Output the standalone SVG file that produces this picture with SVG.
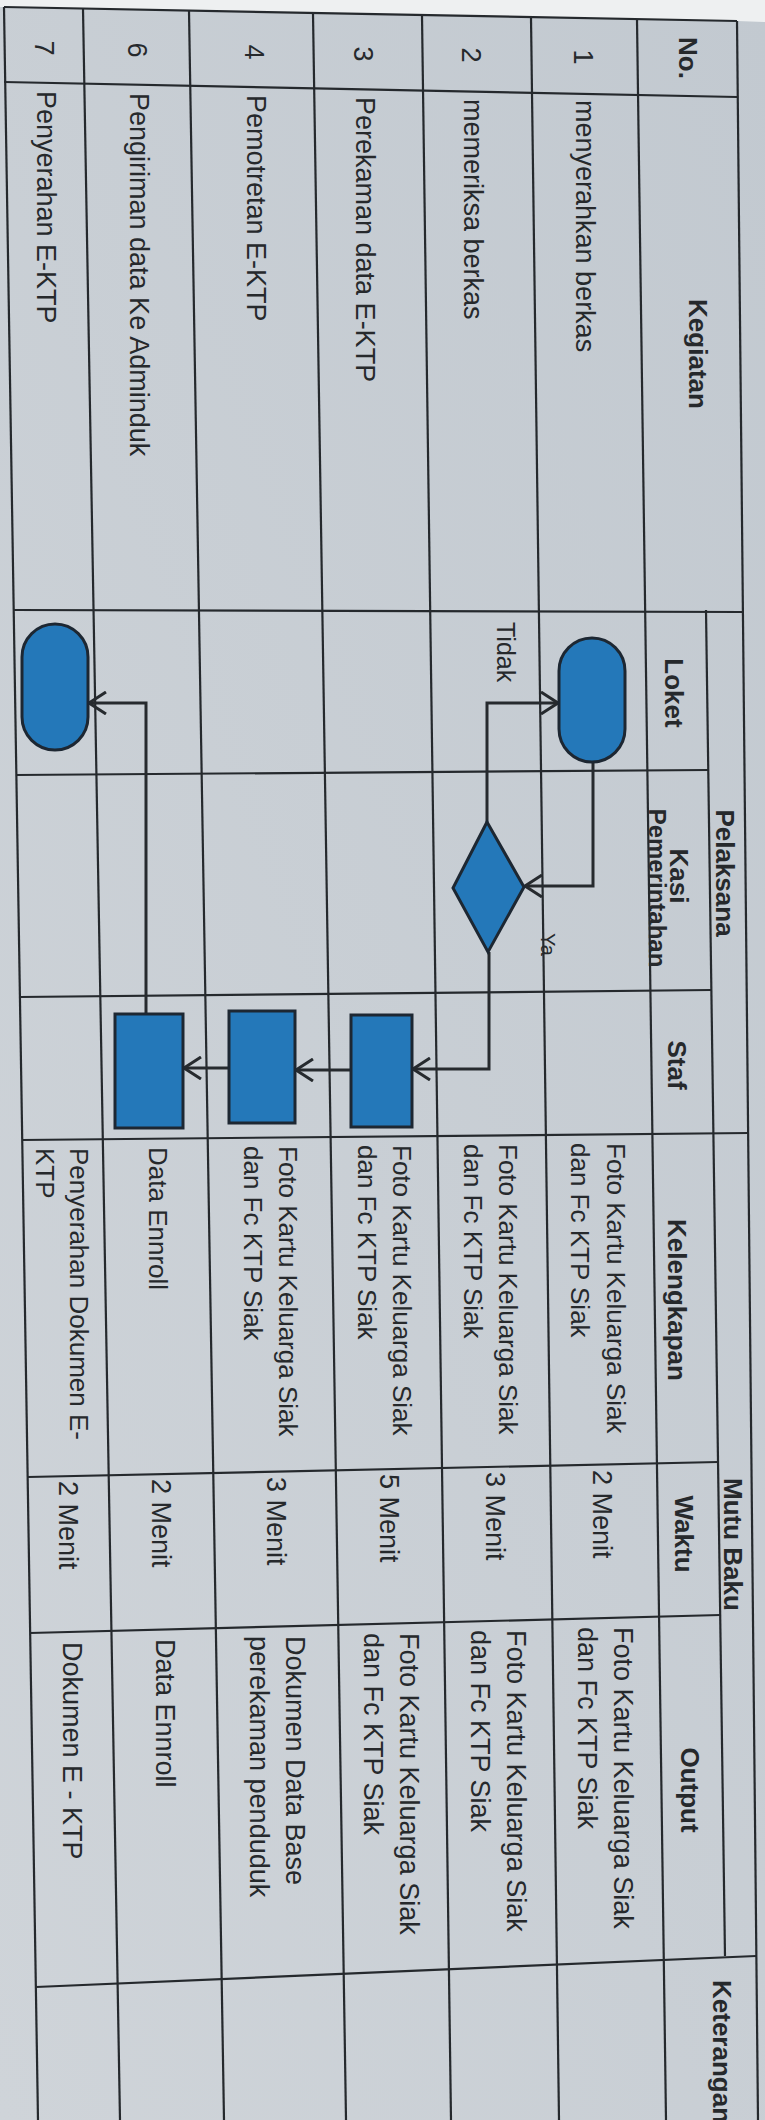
<svg xmlns="http://www.w3.org/2000/svg" width="765" height="2120" viewBox="0 0 765 2120">
<defs>
<linearGradient id="paper" x1="1" y1="0" x2="0" y2="1">
<stop offset="0" stop-color="#c2c9d0"/>
<stop offset="1" stop-color="#cfd4d9"/>
</linearGradient>
<marker id="arr" viewBox="0 0 20 24" refX="18" refY="12" markerWidth="20" markerHeight="24" markerUnits="userSpaceOnUse" orient="auto">
<path d="M1,1 L18,12 L1,23" fill="none" stroke="#262a2e" stroke-width="3"/>
</marker>
<style>
.t{font-family:"Liberation Sans",Arial,sans-serif;font-size:27px;fill:#26292c;dominant-baseline:central}
.k{font-size:26px}
.b{font-weight:bold;font-size:26px}
.m{text-anchor:middle}
.g line{stroke:#25292d;stroke-width:2.2}
.shape{fill:#2478b9;stroke:#1d2732;stroke-width:3}
.con path{fill:none;stroke:#262a2e;stroke-width:3;marker-end:url(#arr)}
</style>
</defs>
<rect width="765" height="2120" fill="url(#paper)"/>
<polygon points="0,0 765,0 765,22 737,21 4,7 0,7" fill="#eef0f1"/>

<g id="table" class="g">
<line x1="4" y1="7" x2="38" y2="2120"/>
<line x1="83" y1="9" x2="120" y2="2120"/>
<line x1="189" y1="11" x2="224" y2="2120"/>
<line x1="313" y1="14" x2="346" y2="2120"/>
<line x1="422" y1="16" x2="451" y2="2120"/>
<line x1="531" y1="18" x2="559" y2="2120"/>
<line x1="637" y1="20" x2="666" y2="2120"/>
<line x1="737" y1="21" x2="758" y2="2120"/>
<line x1="706" y1="610" x2="725" y2="1956"/>
<line x1="4" y1="7" x2="737" y2="21"/>
<line x1="4" y1="82" x2="737" y2="97"/>
<line x1="14" y1="610" x2="744" y2="612"/>
<line x1="16" y1="775" x2="708" y2="770"/>
<line x1="20" y1="997" x2="711" y2="990"/>
<line x1="22" y1="1140" x2="749" y2="1133"/>
<line x1="28" y1="1477" x2="718" y2="1462"/>
<line x1="30" y1="1633" x2="720" y2="1615"/>
<line x1="36" y1="1987" x2="756" y2="1956"/>
</g>

<g id="headers" class="t b">
<text class="m" transform="translate(688,58) rotate(90)">No.</text>
<text class="m" transform="translate(698,354) rotate(90)">Kegiatan</text>
<text class="m" transform="translate(725,873) rotate(90)">Pelaksana</text>
<text class="m" transform="translate(674,693) rotate(90)">Loket</text>
<text class="m" transform="translate(679,876) rotate(90)">Kasi</text>
<text class="m" transform="translate(657,888) rotate(90)" style="font-size:24px">Pemerintahan</text>
<text class="m" transform="translate(677,1065) rotate(90)">Staf</text>
<text class="m" transform="translate(677,1300) rotate(90)">Kelengkapan</text>
<text transform="translate(733,1478) rotate(90)">Mutu Baku</text>
<text class="m" transform="translate(684,1534) rotate(90)">Waktu</text>
<text class="m" transform="translate(690,1790) rotate(90)">Output</text>
<text transform="translate(722,1980) rotate(90)">Keterangan</text>
</g>

<g id="numbers" class="t">
<text class="m" transform="translate(583,57) rotate(90)">1</text>
<text class="m" transform="translate(471,55) rotate(90)">2</text>
<text class="m" transform="translate(363,54) rotate(90)">3</text>
<text class="m" transform="translate(254,52) rotate(90)">4</text>
<text class="m" transform="translate(137,50) rotate(90)">6</text>
<text class="m" transform="translate(44,48) rotate(90)">7</text>
</g>

<g id="kegiatan" class="t">
<text transform="translate(585,100) rotate(90)">menyerahkan berkas</text>
<text transform="translate(473,99) rotate(90)">memeriksa berkas</text>
<text transform="translate(365,97) rotate(90)">Perekaman data E-KTP</text>
<text transform="translate(256,95) rotate(90)">Pemotretan E-KTP</text>
<text transform="translate(139,93) rotate(90)">Pengiriman data Ke Adminduk</text>
<text transform="translate(46,91) rotate(90)">Penyerahan E-KTP</text>
</g>

<g id="kelengkapan" class="t k">
<text transform="translate(616,1143) rotate(90)">Foto Kartu Keluarga Siak</text>
<text transform="translate(580,1143) rotate(90)">dan Fc KTP Siak</text>
<text transform="translate(508,1144) rotate(90)">Foto Kartu Keluarga Siak</text>
<text transform="translate(473,1144) rotate(90)">dan Fc KTP Siak</text>
<text transform="translate(402,1145) rotate(90)">Foto Kartu Keluarga Siak</text>
<text transform="translate(367,1145) rotate(90)">dan Fc KTP Siak</text>
<text transform="translate(288,1146) rotate(90)">Foto Kartu Keluarga Siak</text>
<text transform="translate(253,1146) rotate(90)">dan Fc KTP Siak</text>
<text transform="translate(158,1147) rotate(90)">Data Ennroll</text>
<text transform="translate(79,1148) rotate(90)">Penyerahan Dokumen E-</text>
<text transform="translate(45,1148) rotate(90)">KTP</text>
</g>

<g id="waktu" class="t">
<text transform="translate(602,1470) rotate(90)">2 Menit</text>
<text transform="translate(495,1472) rotate(90)">3 Menit</text>
<text transform="translate(389,1474) rotate(90)">5 Menit</text>
<text transform="translate(276,1477) rotate(90)">3 Menit</text>
<text transform="translate(161,1479) rotate(90)">2 Menit</text>
<text transform="translate(68,1481) rotate(90)">2 Menit</text>
</g>

<g id="output" class="t">
<text transform="translate(623,1627) rotate(90)">Foto Kartu Keluarga Siak</text>
<text transform="translate(587,1627) rotate(90)">dan Fc KTP Siak</text>
<text transform="translate(516,1630) rotate(90)">Foto Kartu Keluarga Siak</text>
<text transform="translate(480,1630) rotate(90)">dan Fc KTP Siak</text>
<text transform="translate(409,1633) rotate(90)">Foto Kartu Keluarga Siak</text>
<text transform="translate(373,1633) rotate(90)">dan Fc KTP Siak</text>
<text transform="translate(295,1636) rotate(90)">Dokumen Data Base</text>
<text transform="translate(259,1636) rotate(90)">perekaman penduduk</text>
<text transform="translate(165,1639) rotate(90)">Data Ennroll</text>
<text transform="translate(72,1642) rotate(90)">Dokumen E - KTP</text>
</g>

<g id="connectors" class="con">
<path d="M593,762 V886 H525"/>
<path d="M487,822 V703 H558"/>
<path d="M489,952 V1069 H413"/>
<path d="M351,1070 H296"/>
<path d="M229,1068 H184"/>
<path d="M146,1014 V703 H89"/>
</g>

<g id="labels" class="t">
<text transform="translate(506,622) rotate(90)" style="font-size:25px">Tidak</text>
<text transform="translate(548,933) rotate(90)" style="font-size:20px">Ya</text>
</g>

<g id="start-loket"><rect class="shape" x="559" y="638" width="66" height="124" rx="33"/></g>
<g id="decision"><polygon class="shape" points="487,822 524,887 488,952 453,888"/></g>
<g id="perekaman"><rect class="shape" x="351" y="1015" width="61" height="112"/></g>
<g id="pemotretan"><rect class="shape" x="229" y="1011" width="66" height="112"/></g>
<g id="pengiriman"><rect class="shape" x="115" y="1014" width="68" height="114"/></g>
<g id="end-loket"><rect class="shape" x="22" y="624" width="66" height="126" rx="33"/></g>
</svg>
